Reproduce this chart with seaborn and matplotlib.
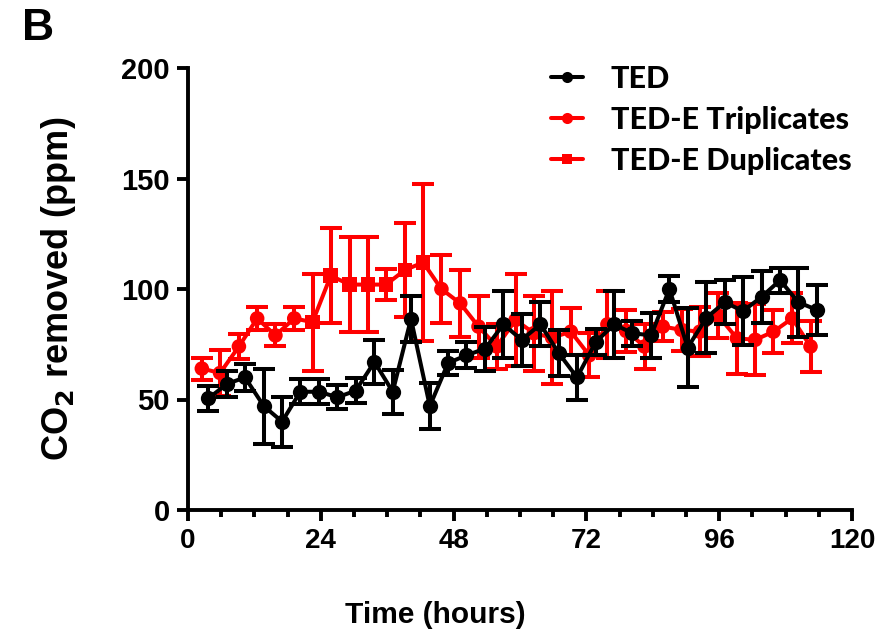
import numpy as np
import pandas as pd
import seaborn as sns
import matplotlib.pyplot as plt
from matplotlib.lines import Line2D
from matplotlib.ticker import MultipleLocator

# TED (black circles)
ted_time = [3.7, 7.0, 10.3, 13.7, 17.0, 20.3, 23.7, 27.0, 30.3, 33.7, 37.0, 40.3,
            43.7, 47.0, 50.3, 53.7, 57.0, 60.3, 63.7, 67.0, 70.3, 73.7, 77.0, 80.3,
            83.7, 87.0, 90.3, 93.7, 97.0, 100.3, 103.7, 107.0, 110.3, 113.7]
ted_mean = [50.5, 57, 60, 47, 40, 53.5, 53.5, 51, 54, 67, 53.5, 86.5,
            47, 66.5, 70, 73, 84, 77, 84, 71, 60, 76, 84, 80,
            79, 100, 73.5, 87, 94, 90, 96.5, 104, 94, 90.5]
ted_sd = [5.6, 6, 6, 17, 11.3, 5.6, 5.6, 5.4, 5.6, 10, 10, 10.3,
          10.5, 5.6, 5.8, 10, 15, 11.7, 10, 10.3, 10, 6, 15, 5.6,
          10, 6, 17.7, 16, 10, 15.5, 11.7, 5.6, 15.5, 11.3]

# TED-E triplicates (red circles)
trip_time = [2.5, 5.8, 9.2, 12.5, 15.8, 19.2,
             45.8, 49.2, 52.5, 55.8, 59.2, 62.5, 65.8, 69.2, 72.5, 75.8, 79.2,
             82.5, 85.8, 89.2, 92.5, 95.8, 99.2, 102.5, 105.8, 109.2, 112.5]
trip_mean = [64, 62, 74, 86.7, 79, 86.7,
             100, 93.5, 83, 74, 86, 80, 78, 80.7, 70, 84, 81,
             74, 83, 81.5, 80.7, 88, 77.7, 77, 80.7, 86.7, 74]
trip_sd = [5, 10.6, 5.6, 5.3, 5, 5.3,
           15.5, 15, 14, 10, 20.7, 17, 21, 10.5, 10, 15, 9.5,
           10, 6.5, 9.5, 11, 10, 16, 16, 9.8, 11.3, 11.7]

# TED-E duplicates (red squares)
dup_time = [22.5, 25.8, 29.2, 32.5, 35.8, 39.2, 42.5]
dup_mean = [85, 106, 102, 102, 102, 108.6, 112]
dup_sd = [22, 21.5, 21.5, 21.5, 7.2, 21.3, 35.5]

RED = "#ff0000"
BLACK = "#000000"

ted = pd.DataFrame({"time": ted_time, "mean": ted_mean, "sd": ted_sd})
trip = pd.DataFrame({"time": trip_time, "mean": trip_mean, "sd": trip_sd,
                     "series": "TED-E Triplicates"})
dup = pd.DataFrame({"time": dup_time, "mean": dup_mean, "sd": dup_sd,
                    "series": "TED-E Duplicates"})
red = pd.concat([trip, dup]).sort_values("time").reset_index(drop=True)

sns.set_theme(style="ticks")
plt.rcParams["font.family"] = ["Liberation Sans", "DejaVu Sans"]
plt.rcParams["font.weight"] = "bold"
for key in ["text.color", "axes.labelcolor", "xtick.color", "ytick.color"]:
    plt.rcParams[key] = "black"

fig = plt.figure(figsize=(8.94, 6.35), dpi=100)
ax = fig.add_axes([188 / 894, 1 - 510 / 635, 664 / 894, 442 / 635])

lw = 2.9
err_kws = dict(fmt="none", elinewidth=lw, capsize=8, capthick=lw)

# red series: one continuous line, markers by replicate type
ax.errorbar(red["time"], red["mean"], yerr=red["sd"], ecolor=RED, zorder=2, **err_kws)
sns.lineplot(data=red, x="time", y="mean", color=RED, lw=lw, sort=True,
             estimator=None, ax=ax, zorder=3)
sns.scatterplot(data=red, x="time", y="mean", style="series",
                markers={"TED-E Triplicates": "o", "TED-E Duplicates": "s"},
                color=RED, s=110, linewidth=0, legend=False, ax=ax, zorder=4)

# black series on top
ax.errorbar(ted["time"], ted["mean"], yerr=ted["sd"], ecolor=BLACK, zorder=5, **err_kws)
sns.lineplot(data=ted, x="time", y="mean", color=BLACK, lw=lw, marker="o",
             markersize=11, markeredgewidth=0, estimator=None, ax=ax, zorder=6)

ax.set_xlim(0, 120)
ax.set_ylim(0, 200)
ax.set_xticks([0, 24, 48, 72, 96, 120])
ax.xaxis.set_minor_locator(MultipleLocator(6))
ax.set_yticks([0, 50, 100, 150, 200])

sns.despine(ax=ax)
for side in ["left", "bottom"]:
    ax.spines[side].set_linewidth(2.8)
    ax.spines[side].set_color("black")
ax.tick_params(axis="both", which="major", length=8, width=2.8, color="black")
ax.tick_params(axis="x", which="minor", length=5, width=2.8, color="black")
ax.tick_params(axis="x", which="major", labelsize=20, pad=5)
ax.tick_params(axis="y", which="major", labelsize=21, pad=5)
for lab in ax.get_xticklabels() + ax.get_yticklabels():
    lab.set_fontweight("bold")

ax.set_xlabel("Time (hours)", fontsize=21.5, fontweight="bold")
ax.set_ylabel("CO$_\\mathbf{2}$ removed (ppm)", fontsize=26, fontweight="bold")
ax.xaxis.set_label_coords((435 - 188) / 664, -0.205)
ax.yaxis.set_label_coords((78 - 188) / 664, 0.5)

handles = [
    Line2D([], [], color=BLACK, lw=lw, marker="o", markersize=8, markeredgewidth=0),
    Line2D([], [], color=RED, lw=lw, marker="o", markersize=8, markeredgewidth=0),
    Line2D([], [], color=RED, lw=lw, marker="s", markersize=7.5, markeredgewidth=0),
]
fig.legend(handles, ["TED", "TED-E Triplicates", "TED-E Duplicates"],
           loc="upper left", bbox_to_anchor=(551 / 894, 1 - 65 / 635),
           frameon=False, borderpad=0, borderaxespad=0,
           handlelength=1.05, handletextpad=0.9, labelspacing=0.42,
           prop={"family": ["Lato", "DejaVu Sans"], "weight": 900, "size": 22})

fig.text(22 / 894, 1 - 8 / 635, "B", fontsize=32, fontweight="bold",
         ha="left", va="top")

fig.savefig("out.png", dpi=100)
